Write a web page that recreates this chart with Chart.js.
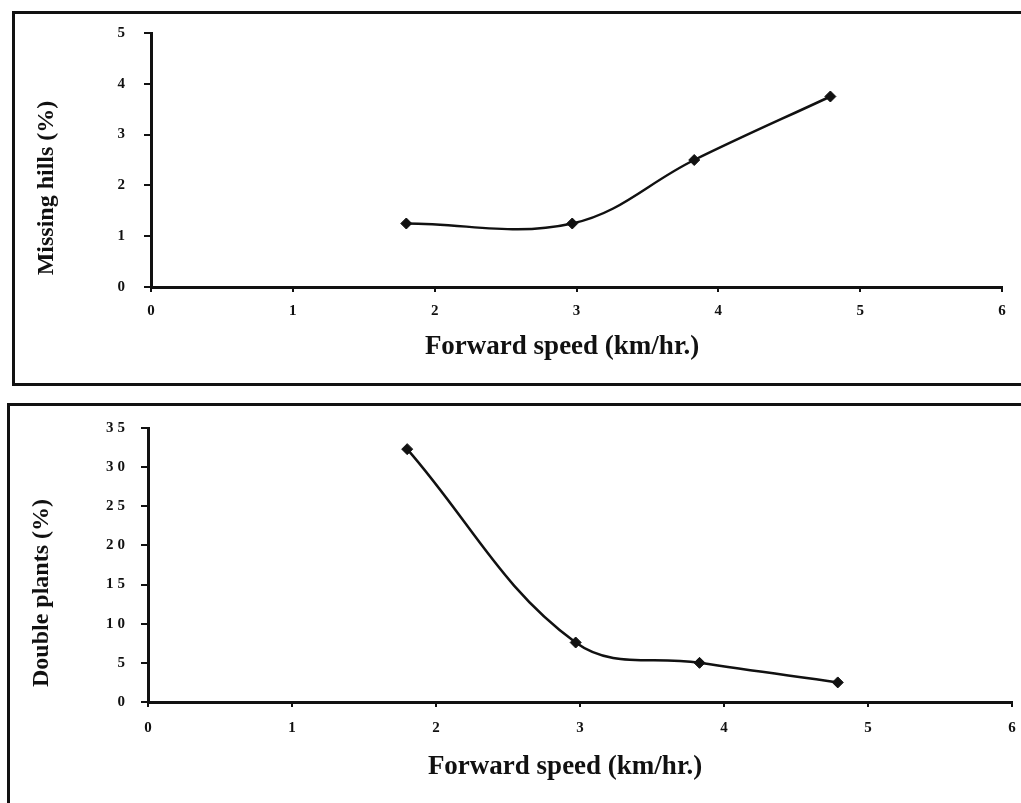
<!DOCTYPE html>
<html>
<head>
<meta charset="utf-8">
<script src="https://cdn.jsdelivr.net/npm/chart.js@4.4.1/dist/chart.umd.min.js"></script>
<style>
html, body { margin:0; padding:0; background:#fff; overflow:hidden; width:1021px; height:803px; }
.panel { position:absolute; border:3px solid #111; box-sizing:border-box; }
#topPanel { left:12px; top:11px; width:1030px; height:375px; }
#botPanel { left:7px; top:403px; width:1030px; height:420px; }
canvas { position:absolute; left:0; }
#topChart { top:14px; }
#botChart { top:406px; }
</style>
</head>
<body>
<div class="panel" id="topPanel"></div>
<div class="panel" id="botPanel"></div>
<canvas id="topChart" width="1021" height="369"></canvas>
<canvas id="botChart" width="1021" height="397"></canvas>
<script>
// values
const speed = [1.8, 2.97, 3.83, 4.79]
const missingHills = [1.25, 1.25, 2.5, 3.75]
const doublePlants = [32.3, 7.6, 5, 2.5]
const xTicks = [0, 1, 2, 3, 4, 5, 6]
const topYTicks = [0, 1, 2, 3, 4, 5]
const botYTicks = [0, 5, 10, 15, 20, 25, 30, 35]
const xTitle = 'Forward speed (km/hr.)'
const topYTitle = 'Missing hills (%)'
const botYTitle = 'Double plants (%)'

const ink = '#111'
Chart.defaults.font.family = '"Liberation Serif", "Times New Roman", serif'
Chart.defaults.color = ink

// wide-spaced tick digits like the scanned figure, and hand placed axis titles
const axisTitles = {
    id: 'axisTitles',
    beforeDraw(chart) {
        chart.ctx.letterSpacing = '4px'
    },
    afterDraw(chart, args, opts) {
        const ctx = chart.ctx
        ctx.save()
        ctx.letterSpacing = '0px'
        ctx.fillStyle = ink
        ctx.textAlign = 'center'
        ctx.textBaseline = 'middle'
        ctx.font = 'bold 27px "Liberation Serif"'
        ctx.fillText(opts.x.text, opts.x.cx, opts.x.cy)
        ctx.translate(opts.y.cx, opts.y.cy)
        ctx.rotate(-Math.PI / 2)
        ctx.font = 'bold 24px "Liberation Serif"'
        ctx.fillText(opts.y.text, 0, 0)
        ctx.restore()
    }
}

function makeChart(id, values, yTicks, yMax, cfg) {
    return new Chart(id, {
        type: 'line',
        data: {
            datasets: [{
                data: speed.map((s, i) => ({x: s, y: values[i]})),
                borderColor: ink,
                backgroundColor: ink,
                borderWidth: 2.5,
                tension: 0.38,
                pointStyle: 'rectRot',
                pointRadius: 5.5,
                pointBorderWidth: 1,
                fill: false
            }]
        },
        options: {
            responsive: false,
            animation: false,
            layout: {padding: cfg.padding},
            plugins: {
                legend: {display: false},
                tooltip: {enabled: false},
                axisTitles: cfg.titles
            },
            scales: {
                x: {
                    type: 'linear',
                    min: 0, max: 6,
                    afterBuildTicks: s => { s.ticks = xTicks.map(v => ({value: v})) },
                    afterFit: s => { s.height = cfg.xHeight; s.paddingLeft = 0; s.paddingRight = 0 },
                    border: {display: true, color: ink, width: 3},
                    grid: {display: true, drawOnChartArea: false, drawTicks: true, tickLength: 5, color: ink, lineWidth: 2},
                    ticks: {color: ink, padding: cfg.xPad, labelOffset: 2, maxRotation: 0, font: {size: 15, weight: 'bold'}}
                },
                y: {
                    min: 0, max: yMax,
                    afterBuildTicks: s => { s.ticks = yTicks.map(v => ({value: v})) },
                    afterFit: s => { s.width = cfg.yWidth; s.paddingTop = 0; s.paddingBottom = 0 },
                    border: {display: true, color: ink, width: 3},
                    grid: {display: true, drawOnChartArea: false, drawTicks: true, tickLength: 7, color: ink, lineWidth: 2},
                    ticks: {color: ink, padding: cfg.yPad, font: {size: 15, weight: 'bold'}}
                }
            }
        },
        plugins: [axisTitles]
    })
}

makeChart('topChart', missingHills, topYTicks, 5, {
    padding: {left: 0, right: 19, top: 19, bottom: 0},
    xHeight: 96, yWidth: 151, xPad: 10, yPad: 15,
    titles: {x: {text: xTitle, cx: 562, cy: 333}, y: {text: topYTitle, cx: 47, cy: 174}}
})

makeChart('botChart', doublePlants, botYTicks, 35, {
    padding: {left: 0, right: 9, top: 22, bottom: 0},
    xHeight: 101, yWidth: 148, xPad: 12, yPad: 12,
    titles: {x: {text: xTitle, cx: 565, cy: 361}, y: {text: botYTitle, cx: 42, cy: 187}}
})
</script>
</body>
</html>
